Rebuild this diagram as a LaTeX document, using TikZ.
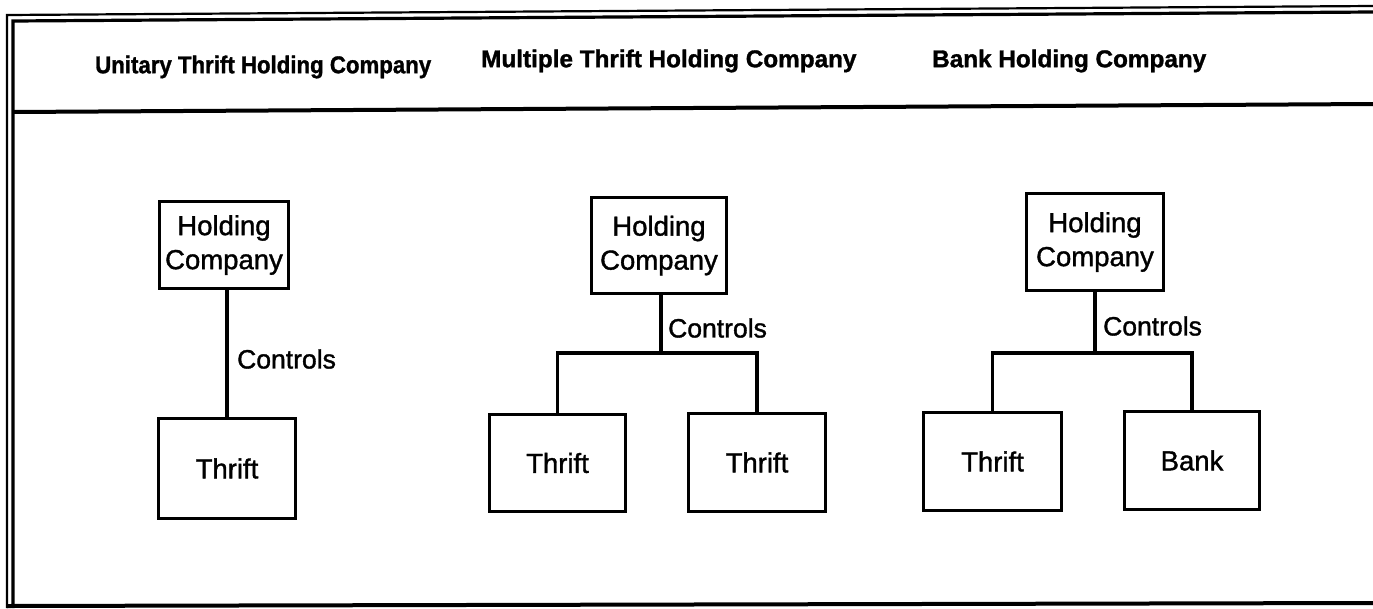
\documentclass[tikz,border=0pt]{standalone}
\usepackage{fontspec}
\usepackage{graphicx}
\setmainfont[FakeBold=1.3]{Liberation Sans}
\begin{document}
\begin{tikzpicture}[x=1pt,y=-1pt,
  box/.style={draw,line width=3.2pt,align=center,inner sep=0pt,
    font=\fontsize{27.5}{34}\selectfont},
  conn/.style={line width=3.2pt},
  lbl/.style={anchor=west,inner sep=0pt,font=\fontsize{26.5}{30}\selectfont},
  head/.style={anchor=west,inner sep=0pt,font=\bfseries\fontsize{24.3}{28}\selectfont}]
\useasboundingbox (0,0) rectangle (1373,608);

% page frame: double rule on top and left, header band rule, bottom rule
\draw[line width=2.2pt] (7,608) -- (7,15) -- (1373,6);
\draw[line width=3.2pt] (13,608) -- (13,21) -- (1373,12);
\draw[line width=4pt] (13,112) -- (1373,104);
\draw[line width=4pt] (7,606) -- (1373,603);

% column headings (the first one is set slightly condensed)
\node[head] (h1) at (95,67) {\scalebox{0.915}[1]{Unitary Thrift Holding Company}};
\node[head] (h2) at (481,61) {Multiple Thrift Holding Company};
\node[head] (h3) at (932,61) {Bank Holding Company};

% unitary thrift holding company
\node[box,minimum width=129pt,minimum height=87pt] (hc1) at (224,245) {Holding\\Company};
\node[box,minimum width=137pt,minimum height=100pt] (th1) at (227,468.5) {Thrift};
\draw[conn] (th1.north) -- (th1.north |- hc1.south);
\node[lbl] (c1) at (237,359) {Controls};

% multiple thrift holding company
\node[box,minimum width=135pt,minimum height=96pt] (hc2) at (659,245.5) {Holding\\Company};
\node[box,minimum width=136pt,minimum height=97pt] (tl2) at (557.5,463) {Thrift};
\node[box,minimum width=137pt,minimum height=98pt] (tr2) at (757,462.5) {Thrift};
\coordinate (j2) at (661,353);
\draw[conn] (j2 |- hc2.south) -- (j2);
\draw[conn] (tl2.north) |- (j2) -| (tr2.north);
\node[lbl] (c2) at (668,328) {Controls};

% bank holding company
\node[box,minimum width=137pt,minimum height=97pt] (hc3) at (1095,242) {Holding\\Company};
\node[box,minimum width=138pt,minimum height=98pt] (tl3) at (992.5,461.5) {Thrift};
\node[box,minimum width=135pt,minimum height=98pt] (bk3) at (1192,460.5) {Bank};
\coordinate (j3) at (1095,353);
\draw[conn] (j3 |- hc3.south) -- (j3);
\draw[conn] (tl3.north) |- (j3) -| (bk3.north);
\node[lbl] (c3) at (1103,326) {Controls};
\end{tikzpicture}
\end{document}
